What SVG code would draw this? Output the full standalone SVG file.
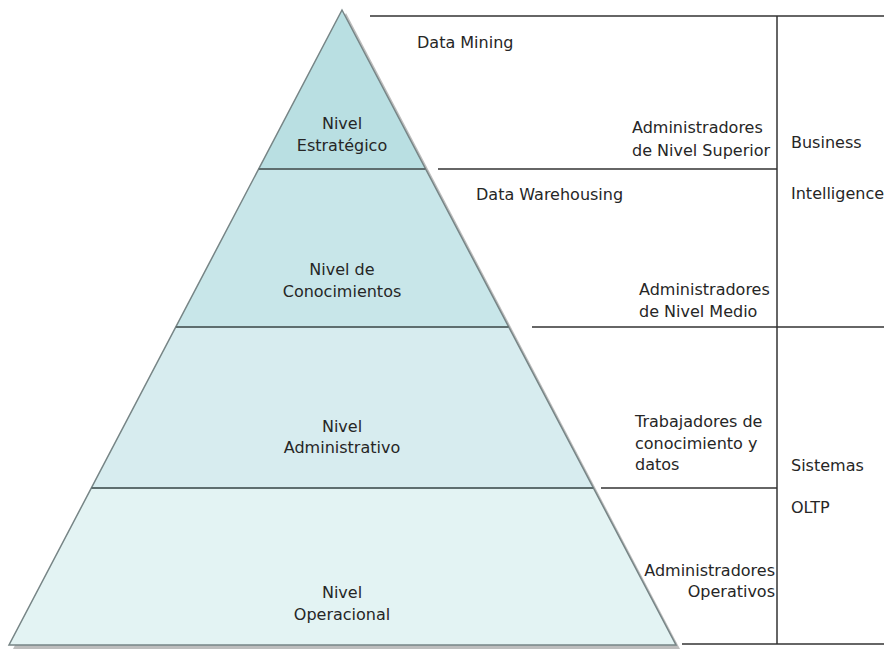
<svg xmlns="http://www.w3.org/2000/svg" width="884" height="651" viewBox="0 0 884 651">
<style>
  text { font-family: "DejaVu Sans", Verdana, sans-serif; font-size: 16px; fill: #262626; }
  .c { text-anchor: middle; }
  .e { text-anchor: end; }
  .tier { stroke: none; }
  .div { stroke: #5e6e6f; stroke-width: 2; fill: none; }
  .edge { stroke: #778586; stroke-width: 1.5; fill: none; }
  .ln { stroke: #333; stroke-width: 1.5; fill: none; }
</style>
<rect width="884" height="651" fill="#ffffff"/>
<g id="shadow">
  <polygon points="346,13 13,649 680,649" fill="#bdbdbd"/>
</g>
<g id="tier-estrategico">
  <polygon class="tier" points="342,10 258.6,169 425.6,169" fill="#b9dfe2"/>
  <text class="c" x="342" y="129">Nivel</text>
  <text class="c" x="342" y="151">Estratégico</text>
</g>
<g id="tier-conocimientos">
  <polygon class="tier" points="258.6,169 425.6,169 508.7,327 175.8,327" fill="#c8e6e9"/>
  <text class="c" x="342" y="275">Nivel de</text>
  <text class="c" x="342" y="297">Conocimientos</text>
</g>
<g id="tier-administrativo">
  <polygon class="tier" points="175.8,327 508.7,327 593.4,488 91.3,488" fill="#d7ecef"/>
  <text class="c" x="342" y="432">Nivel</text>
  <text class="c" x="342" y="453">Administrativo</text>
</g>
<g id="tier-operacional">
  <polygon class="tier" points="91.3,488 593.4,488 676,645 9,645" fill="#e3f3f3"/>
  <text class="c" x="342" y="598">Nivel</text>
  <text class="c" x="342" y="620">Operacional</text>
</g>
<g id="pyramid-lines">
  <polygon class="edge" points="342,10 9,645 676,645"/>
  <line class="div" x1="258.6" y1="169" x2="425.6" y2="169"/>
  <line class="div" x1="175.8" y1="327" x2="508.7" y2="327"/>
  <line class="div" x1="91.3" y1="488" x2="593.4" y2="488"/>
</g>
<g id="connectors">
  <line class="ln" x1="370" y1="16" x2="884" y2="16"/>
  <line class="ln" x1="438" y1="169" x2="777" y2="169"/>
  <line class="ln" x1="532" y1="327" x2="884" y2="327"/>
  <line class="ln" x1="601" y1="488" x2="777" y2="488"/>
  <line class="ln" x1="682" y1="644" x2="884" y2="644"/>
  <line class="ln" x1="777" y1="16" x2="777" y2="644"/>
</g>
<g id="label-data-mining">
  <text x="417" y="48">Data Mining</text>
</g>
<g id="label-data-warehousing">
  <text x="476" y="200">Data Warehousing</text>
</g>
<g id="label-admin-superior">
  <text x="632" y="133">Administradores</text>
  <text x="632" y="155.5">de Nivel Superior</text>
</g>
<g id="label-admin-medio">
  <text x="639" y="295">Administradores</text>
  <text x="639" y="317">de Nivel Medio</text>
</g>
<g id="label-trabajadores">
  <text x="635" y="427">Trabajadores de</text>
  <text x="635" y="448.5">conocimiento y</text>
  <text x="635" y="470">datos</text>
</g>
<g id="label-admin-operativos">
  <text class="e" x="775" y="576">Administradores</text>
  <text class="e" x="775" y="597">Operativos</text>
</g>
<g id="label-business-intelligence">
  <text x="791" y="148">Business</text>
  <text x="791" y="199">Intelligence</text>
</g>
<g id="label-sistemas-oltp">
  <text x="791" y="471">Sistemas</text>
  <text x="791" y="513">OLTP</text>
</g>
</svg>
